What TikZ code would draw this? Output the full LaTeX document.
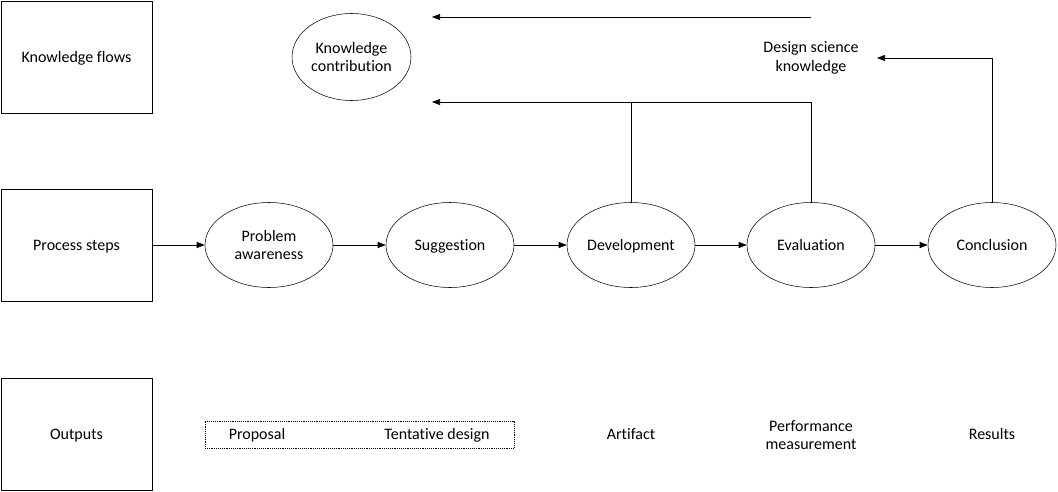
\documentclass[tikz,border=0pt]{standalone}
\usepackage{fontspec}
\setmainfont{Carlito}[Ligatures=NoCommon]
\usetikzlibrary{arrows.meta,shapes.geometric,positioning}
\begin{document}
\begin{tikzpicture}[x=0.75pt,y=-0.75pt,
        font=\fontsize{12pt}{14pt}\selectfont,
        lane/.style={draw, minimum width=113.25pt, minimum height=84pt, inner sep=0pt, single},
        stage/.style={draw, ellipse, minimum width=96pt, minimum height=63.75pt, inner sep=0pt, align=center},
        single/.style={text height=10pt, text depth=1.5pt},
        flow/.style={-{Triangle[length=6pt,width=4.5pt]}},
        output/.style={align=center}]
        \useasboundingbox (0,0) rectangle (1058,492);
        % rows
        \node[lane] (flows) at (76.5,57) {Knowledge flows};
        \node[lane] (steps) at (76.5,245) {Process steps};
        \node[lane] (outs) at (76.5,434) {Outputs};
        % process steps
        \node[stage] (aware) at (269,245) {Problem\\awareness};
        \node[stage, single] (sugg) at (450,245) {Suggestion};
        \node[stage, single] (dev) at (631,245) {Development};
        \node[stage, single] (eval) at (811,245) {Evaluation};
        \node[stage, single] (concl) at (992,245) {Conclusion};
        \draw[flow] (steps) -- (aware);
        \draw[flow] (aware) -- (sugg);
        \draw[flow] (sugg) -- (dev);
        \draw[flow] (dev) -- (eval);
        \draw[flow] (eval) -- (concl);
        % knowledge flows
        \node[stage, minimum width=89.25pt, minimum height=65.25pt] (contrib) at (351.5,57) {Knowledge\\contribution};
        \node[output] (dsk) at (811,58) {Design science\\knowledge};
        \coordinate (top-start) at (811,17);
        \coordinate (top-end) at (432,17);
        \coordinate (mid-end) at (432,102);
        \coordinate (dsk-in) at (877,58);
        \draw[flow] (top-start) -- (top-end);
        \draw[flow] (eval.north) |- (mid-end);
        \draw (dev.north) -- (dev.north |- mid-end);
        \draw[flow] (concl.north) |- (dsk-in);
        % outputs
        \node[draw, densely dotted, minimum width=231.75pt, minimum height=20.25pt, inner sep=0pt] (tent-box) at (359.5,434.5) {};
        \node[output, single] (proposal) at (257,434) {Proposal};
        \node[output, single] (tentative) at (437,434) {Tentative design};
        \node[output, single] (artifact) at (631,434) {Artifact};
        \node[output] (perf) at (811,435) {Performance\\measurement};
        \node[output, single] (results) at (992,434) {Results};
    \end{tikzpicture}
\end{document}
